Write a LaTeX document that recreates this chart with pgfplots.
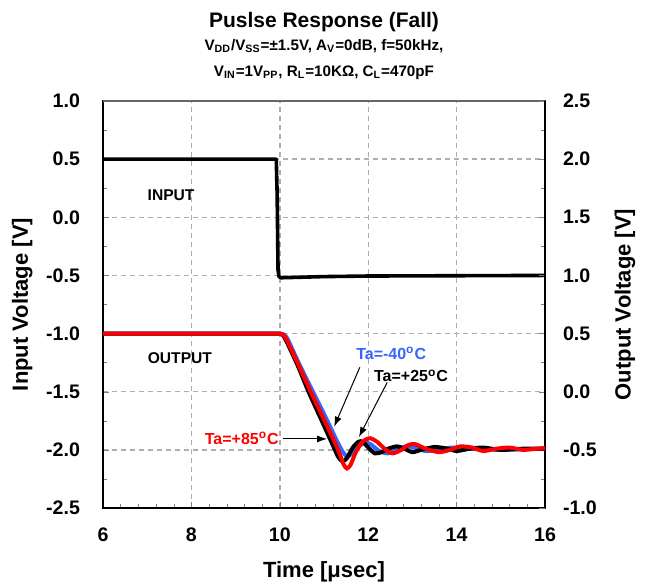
\documentclass[border=0pt]{standalone}
\usepackage{fontspec}
\setmainfont{Liberation Sans}
\usepackage{pgfplots}
\pgfplotsset{compat=1.18}
\usetikzlibrary{arrows.meta}
\definecolor{cblue}{RGB}{51,102,255}
\definecolor{gridgray}{RGB}{175,175,175}

\begin{document}
\begin{tikzpicture}
\path[use as bounding box] (-51.5pt,-38.5pt) rectangle (272pt,254pt);
\pgfplotsset{
  common/.style={
    at={(0,0)}, anchor=south west,
    scale only axis, width=221pt, height=203.5pt,
    xmin=6, xmax=16,
    font=\bfseries\fontsize{9.8}{11}\selectfont,
    label style={font=\bfseries\fontsize{11}{13}\selectfont},
    /pgf/number format/assume math mode=true,
    tick align=inside,
    major tick length=3pt, minor tick length=2pt,
    minor tick style={gray},
    axis line style={line width=0.8pt},
    yticklabel style={/pgf/number format/fixed, /pgf/number format/fixed zerofill, /pgf/number format/precision=1},
  }
}
% left axis: input voltage
\begin{axis}[common,
  ymin=-2.5, ymax=1.0,
  ytick={-2.5,-2,-1.5,-1,-0.5,0,0.5,1},
  minor y tick num=1,
  xtick={6,8,10,12,14,16},
  minor x tick num=4,
  xtick pos=bottom, ytick pos=left,
  grid=major,
  major grid style={gridgray, line width=0.7pt, dash pattern=on 2.5pt off 2pt},
  xticklabel style={yshift=-6.5pt},
  yticklabel style={xshift=-8pt},
  xlabel={Time [μsec]},
  ylabel={Input Voltage [V]},
  x label style={at={(rel axis cs:0.5,-0.157)}, anchor=center},
  y label style={at={(rel axis cs:-0.183,0.5)}, anchor=center, rotate=0},
  clip=false,
]
\addplot[black, line width=1.8pt, line join=round] coordinates {
  (6,0.5) (9.92,0.5) (9.94,0.2) (9.96,-0.45) (9.98,-0.51) (10.03,-0.52)
  (11,-0.51) (12,-0.505) (16,-0.5)
};
\draw[black!60, line width=0.8pt] (rel axis cs:0,1) -- (rel axis cs:1,1);

\node[font=\bfseries\fontsize{7.8}{9}\selectfont] at (axis cs:7.54,0.19) {INPUT};
\node[font=\bfseries\fontsize{7.8}{9}\selectfont] at (axis cs:7.74,-1.21) {OUTPUT};

\node[cblue, font=\bfseries\fontsize{8}{9}\selectfont] at (axis cs:12.52,-1.17) {Ta=-40\textsuperscript{o}C};
\node[black, font=\bfseries\fontsize{8}{9}\selectfont] at (axis cs:12.97,-1.365) {Ta=+25\textsuperscript{o}C};
\node[red, font=\bfseries\fontsize{8}{9}\selectfont] at (axis cs:9.14,-1.90) {Ta=+85\textsuperscript{o}C};
\draw[-{Latex[length=5pt,width=3.5pt]}, line width=0.5pt] (axis cs:11.81,-1.29) -- (axis cs:11.23,-1.80);
\draw[-{Latex[length=5pt,width=3.5pt]}, line width=0.5pt] (axis cs:12.43,-1.42) -- (axis cs:11.79,-1.89);
\draw[-{Latex[length=5pt,width=3.5pt]}, line width=0.5pt] (axis cs:10.07,-1.906) -- (axis cs:11.07,-1.906);

\node[font=\bfseries\fontsize{10.5}{12}\selectfont] at (rel axis cs:0.5,1.194) {Puslse Response (Fall)};
\node[font=\bfseries\fontsize{7.6}{9}\selectfont] at (rel axis cs:0.5,1.134)
  {V\textsubscript{DD}/V\textsubscript{SS}=±1.5V, A\textsubscript{V}=0dB, f=50kHz,};
\node[font=\bfseries\fontsize{7.6}{9}\selectfont] at (rel axis cs:0.5,1.069)
  {V\textsubscript{IN}=1V\textsubscript{PP}, R\textsubscript{L}=10KΩ, C\textsubscript{L}=470pF};
\end{axis}

% right axis: output voltage
\begin{axis}[common,
  axis y line*=right, axis x line=none,
  ymin=-1.0, ymax=2.5,
  ytick={-1,-0.5,0,0.5,1,1.5,2,2.5},
  minor y tick num=1,
  yticklabel style={xshift=5.5pt},
  ylabel={Output Voltage [V]},
  y label style={at={(rel axis cs:1.181,0.5)}, anchor=center, rotate=0},
]
\addplot[cblue, line width=2pt, smooth, tension=0.4] coordinates {
  (6,0.5) (9.8,0.5) (9.9,0.5) (10.0,0.5) (10.1,0.49) (10.18,0.45) (10.45,0.23) (10.75,0.0)
  (11.05,-0.23) (11.3,-0.43) (11.43,-0.52) (11.53,-0.56) (11.63,-0.53)
  (11.78,-0.47) (11.93,-0.44) (12.05,-0.45) (12.25,-0.51) (12.45,-0.53)
  (12.65,-0.50) (12.85,-0.47) (13.05,-0.48) (13.3,-0.51) (13.6,-0.50)
  (13.9,-0.48) (14.3,-0.49) (15,-0.50) (16,-0.49)
};
\addplot[black, line width=2pt, smooth, tension=0.4] coordinates {
  (6,0.5) (9.8,0.5) (9.9,0.5) (10.0,0.5) (10.06,0.49) (10.13,0.45) (10.4,0.23) (10.65,0.0)
  (10.95,-0.25) (11.2,-0.46) (11.32,-0.56) (11.42,-0.60) (11.52,-0.57)
  (11.65,-0.48) (11.78,-0.43) (11.88,-0.43) (12.0,-0.48) (12.15,-0.53)
  (12.3,-0.52) (12.45,-0.49) (12.65,-0.47) (12.82,-0.49) (13.0,-0.52)
  (13.2,-0.50) (13.5,-0.475) (13.8,-0.49) (14.0,-0.51) (14.3,-0.49)
  (14.6,-0.48) (15.0,-0.50) (15.5,-0.49) (16,-0.49)
};
\addplot[red, line width=2pt, smooth, tension=0.4] coordinates {
  (6,0.5) (9.8,0.5) (9.9,0.5) (10.0,0.5) (10.08,0.49) (10.15,0.45) (10.4,0.25) (10.7,0.0)
  (11.0,-0.24) (11.25,-0.44) (11.38,-0.56) (11.45,-0.63) (11.52,-0.66)
  (11.6,-0.63) (11.72,-0.52) (11.85,-0.44) (11.95,-0.41) (12.05,-0.40)
  (12.2,-0.43) (12.4,-0.50) (12.56,-0.53) (12.75,-0.50) (12.9,-0.46)
  (13.06,-0.45) (13.3,-0.49) (13.6,-0.52) (13.85,-0.50) (14.08,-0.47)
  (14.35,-0.48) (14.6,-0.51) (14.9,-0.49) (15.2,-0.48) (15.5,-0.50)
  (15.8,-0.49) (16,-0.485)
};
\end{axis}
\end{tikzpicture}
\end{document}
